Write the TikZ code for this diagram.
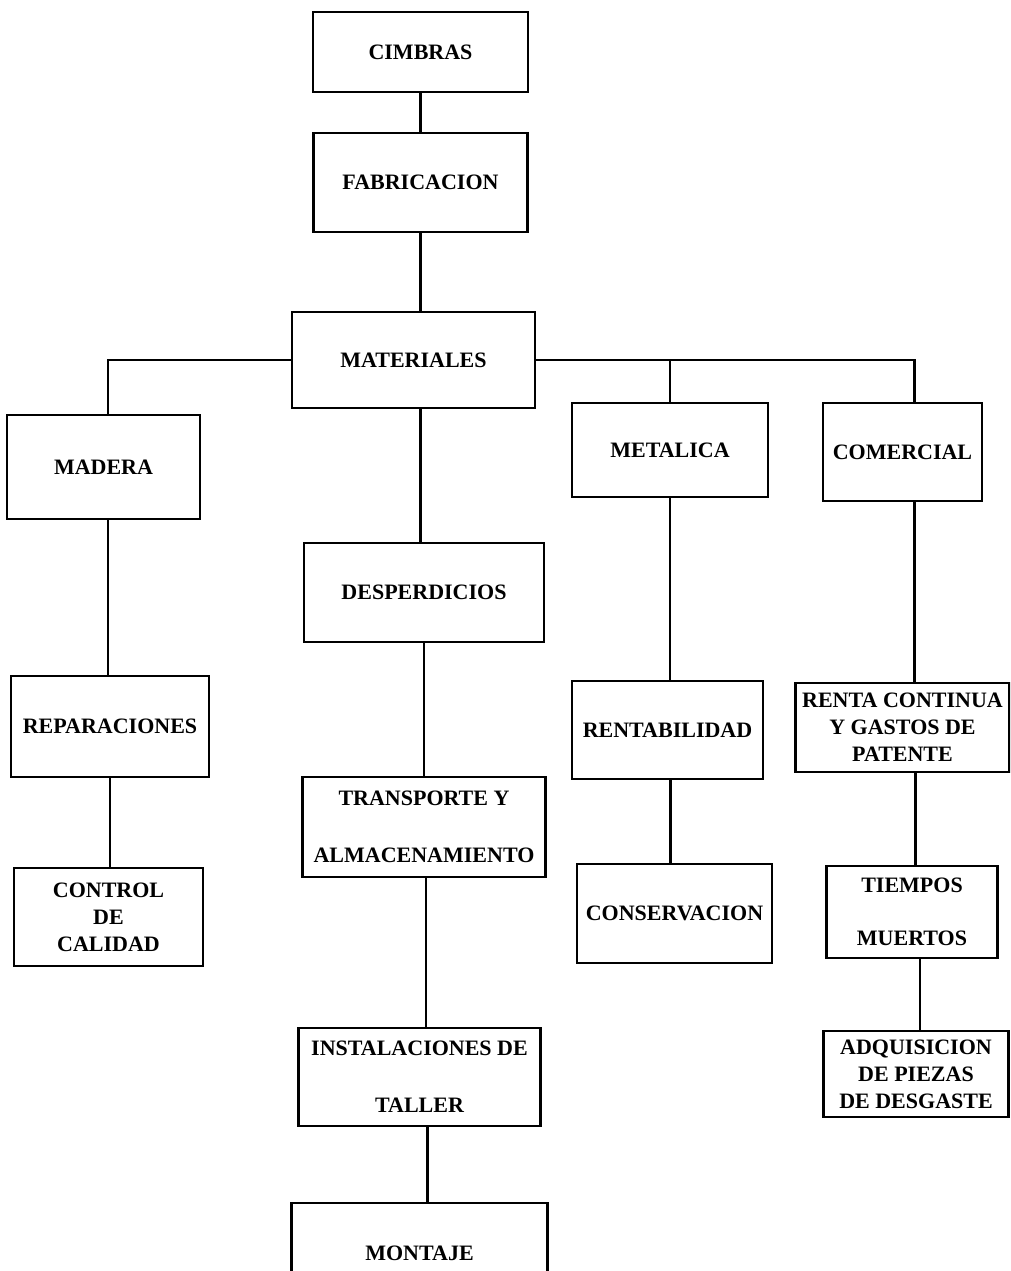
\documentclass[tikz,border=0pt]{standalone}
\usepackage{fontspec}
\setmainfont{Liberation Serif}
\usetikzlibrary{positioning}
\tikzset{
  x=1pt, y=1pt, % one unit is one pixel of the scan
  box/.style 2 args={draw, line width=2.2pt, inner sep=0pt, outer sep=0pt,
    align=center, minimum width=#1, minimum height=#2,
    font=\fontsize{22}{27}\selectfont\bfseries}, % every box of the chart
  link/.style={line width=2.2pt}, % the lines between the boxes
}
\begin{document}
\begin{tikzpicture}
    \clip (0,0) rectangle (1010,-1271);

    % main column
    \node[box={215pt}{80pt}] (cimbras) at (420.5,-52) {CIMBRAS};
    \node[box={214pt}{99pt}, below=41pt of cimbras] (fabricacion) {FABRICACION};
    \node[box={243pt}{96pt}, below=80pt of fabricacion, xshift=-7pt] (materiales) {MATERIALES};
    \node[box={240pt}{99pt}, below=135pt of materiales, xshift=10.5pt] (desperdicios) {DESPERDICIOS};
    \node[box={243pt}{100pt}, below=135pt of desperdicios] (transporte) {TRANSPORTE Y\\[30pt]ALMACENAMIENTO};
    \node[box={242pt}{98pt}, below=151pt of transporte, xshift=-4.5pt] (instalaciones) {INSTALACIONES DE\\[30pt]TALLER};
    \node[box={256pt}{100pt}, below=77pt of instalaciones] (montaje) {MONTAJE};

    % madera
    \node[box={193pt}{104pt}] (madera) at (103.5,-467) {MADERA};
    \node[box={198pt}{101pt}, below=157pt of madera, xshift=6.5pt] (reparaciones) {REPARACIONES};
    \node[box={189pt}{98pt}, below=91pt of reparaciones, xshift=-1.5pt] (control) {CONTROL\\DE\\CALIDAD};

    % metalica
    \node[box={196pt}{94pt}] (metalica) at (670,-450) {METALICA};
    \node[box={191pt}{98pt}, below=184pt of metalica, xshift=-2.5pt] (rentabilidad) {RENTABILIDAD};
    \node[box={195pt}{99pt}, below=85pt of rentabilidad, xshift=7pt] (conservacion) {CONSERVACION};

    % comercial
    \node[box={159pt}{98pt}] (comercial) at (902.5,-452) {COMERCIAL};
    \node[box={214pt}{89pt}, below=182pt of comercial] (renta) {RENTA CONTINUA\\Y GASTOS DE\\PATENTE};
    \node[box={171pt}{92pt}, below=94pt of renta, xshift=9.5pt] (tiempos) {TIEMPOS\\[26pt]MUERTOS};
    \node[box={185pt}{86pt}, below=73pt of tiempos, xshift=4pt] (adquisicion) {ADQUISICION\\DE PIEZAS\\DE DESGASTE};

    \draw[link] (cimbras.south) -- (cimbras.south |- fabricacion.north)
    (fabricacion.south) -- (fabricacion.south |- materiales.north)
    (materiales.west) -| ([xshift=4.5pt]madera.north)
    (materiales.east) -| ([xshift=12pt]comercial.north)
    (metalica.north) -- (metalica.north |- materiales.east)
    (fabricacion.south |- materiales.south) -- (fabricacion.south |- desperdicios.north)
    ([xshift=4.5pt]madera.south) -- ([xshift=4.5pt]madera.south |- reparaciones.north)
    (reparaciones.south) -- (reparaciones.south |- control.north)
    (desperdicios.south) -- (desperdicios.south |- transporte.north)
    ([xshift=2pt]transporte.south) -- ([xshift=2pt]transporte.south |- instalaciones.north)
    ([xshift=8pt]instalaciones.south) -- ([xshift=8pt]instalaciones.south |- montaje.north)
    (metalica.south) -- (metalica.south |- rentabilidad.north)
    ([xshift=3pt]rentabilidad.south) -- ([xshift=3pt]rentabilidad.south |- conservacion.north)
    ([xshift=12pt]comercial.south) -- ([xshift=12pt]comercial.south |- renta.north)
    ([xshift=13pt]renta.south) -- ([xshift=13pt]renta.south |- tiempos.north)
    ([xshift=8pt]tiempos.south) -- ([xshift=8pt]tiempos.south |- adquisicion.north);

\end{tikzpicture}
\end{document}
